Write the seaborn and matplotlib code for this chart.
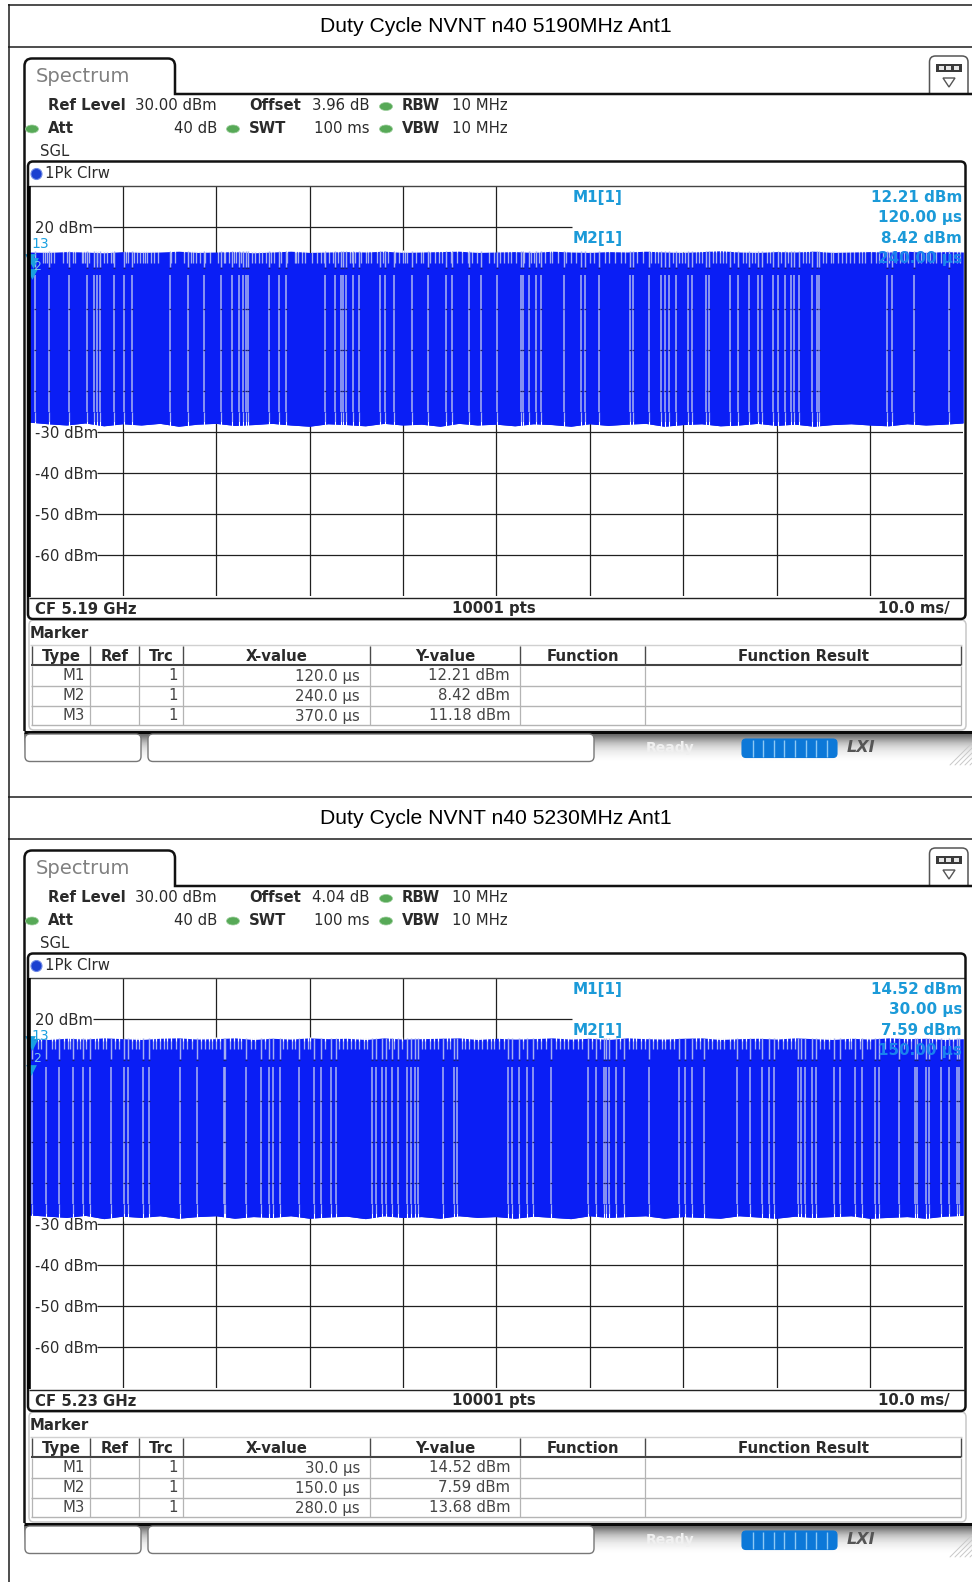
import numpy as np
import pandas as pd
import seaborn as sns
import matplotlib
matplotlib.use('Agg')
import matplotlib.pyplot as plt
from matplotlib.patches import FancyBboxPatch, Ellipse, Rectangle, PathPatch, Polygon
from matplotlib.path import Path

# --- data ---
titles = ['Duty Cycle NVNT n40 5190MHz Ant1', 'Duty Cycle NVNT n40 5230MHz Ant1']
cf_labels = ['CF 5.19 GHz', 'CF 5.23 GHz']
offset_labels = ['3.96 dB', '4.04 dB']

marker_names = ['M1', 'M2', 'M3']
marker_x_us = [[120.0, 240.0, 370.0], [30.0, 150.0, 280.0]]
marker_y_dbm = [[12.21, 8.42, 11.18], [14.52, 7.59, 13.68]]

db_ticks = [20, -30, -40, -50, -60]
db_tick_labels = ['20 dBm', '-30 dBm', '-40 dBm', '-50 dBm', '-60 dBm']

env_ms = [0, 2, 4, 6, 8, 10, 12, 14, 16, 18, 20, 22, 24, 26, 28, 30, 32, 34, 36, 38, 40, 42, 44, 46, 48, 50,
          52, 54, 56, 58, 60, 62, 64, 66, 68, 70, 72, 74, 76, 78, 80, 82, 84, 86, 88, 90, 92, 94, 96, 98, 100]
top_a = [13.9, 13.8, 14.0, 13.9, 13.7, 14.0, 13.8, 13.9, 14.1, 13.8, 13.9, 14.0, 13.7, 13.9, 14.1, 13.8, 13.9,
         14.0, 13.9, 14.1, 13.8, 13.9, 14.0, 14.1, 13.8, 13.9, 14.0, 13.8, 14.1, 13.9, 13.8, 14.0, 13.9, 14.1,
         13.9, 13.8, 14.0, 14.2, 13.9, 13.8, 14.0, 13.9, 14.1, 13.8, 13.9, 14.0, 13.9, 14.1, 13.8, 14.0, 13.9]
top_b = [15.2, 15.0, 15.3, 15.1, 15.4, 15.2, 15.0, 15.3, 15.4, 15.1, 15.2, 15.4, 15.0, 15.3, 15.1, 15.4, 15.2,
         15.3, 15.0, 15.4, 15.1, 15.2, 15.3, 15.4, 15.0, 15.3, 15.1, 15.2, 15.4, 15.1, 15.3, 15.0, 15.4, 15.2,
         15.1, 15.3, 15.4, 15.0, 15.2, 15.3, 15.1, 15.4, 15.2, 15.0, 15.3, 15.1, 15.4, 15.2, 15.3, 15.0, 15.2]
bot_a = [-27.6, -28.0, -28.3, -27.8, -28.5, -28.0, -28.3, -27.9, -28.6, -28.1, -27.9, -28.4, -28.2, -27.9, -28.3,
         -28.6, -28.0, -28.2, -28.5, -27.9, -28.3, -28.1, -28.6, -27.9, -28.3, -28.1, -28.5, -28.0, -28.2, -28.6,
         -28.0, -28.4, -28.1, -27.9, -28.6, -28.2, -28.0, -28.5, -28.3, -27.9, -28.4, -28.1, -28.6, -28.2, -28.0,
         -28.3, -28.5, -28.0, -28.3, -28.1, -27.8]
bot_b = [-27.8, -28.1, -28.4, -27.9, -28.7, -28.1, -28.4, -28.0, -28.6, -28.2, -28.0, -28.6, -28.2, -28.4, -28.0,
         -28.6, -28.3, -28.1, -28.7, -28.0, -28.4, -28.2, -28.6, -28.0, -28.4, -28.2, -28.6, -28.1, -28.4, -28.7,
         -28.0, -28.4, -28.2, -28.0, -28.6, -28.2, -28.4, -28.6, -28.0, -28.3, -28.6, -28.1, -28.4, -28.2, -28.0,
         -28.6, -28.4, -28.2, -28.6, -28.1, -27.9]

gaps_a = [0.6, 2.07, 4.28, 6.2, 6.9, 7.3, 7.6, 9.1, 10.1, 11.0, 15.1, 17.0, 18.7, 20.5, 21.7, 22.4, 22.9, 23.2, 23.4,
          25.7, 26.7, 27.5, 31.7, 32.7, 33.4, 33.6, 33.9, 34.7, 35.3, 37.6, 38.1, 39.0, 41.0, 42.7, 44.6, 45.3, 47.1,
          48.4, 50.1, 52.6, 52.9, 53.5, 54.2, 54.8, 57.2, 59.1, 59.5, 61.0, 64.3, 64.6, 66.3, 67.6, 68.1, 68.5, 69.2,
          70.5, 71.0, 72.5, 72.8, 75.0, 75.9, 77.1, 78.0, 78.4, 79.6, 80.2, 80.9, 81.5, 81.9, 82.4, 83.8, 84.3, 84.6,
          91.8, 92.4, 94.7, 98.5]
gaps_b = [0.3, 1.8, 3.2, 4.7, 5.7, 6.5, 8.7, 10.1, 10.6, 12.2, 12.8, 16.1, 18.0, 20.8, 21.0, 23.2, 24.8, 25.7, 26.1,
          26.8, 28.9, 30.5, 31.2, 32.3, 32.8, 36.7, 37.1, 37.8, 38.2, 38.8, 39.5, 40.4, 40.9, 41.3, 41.6, 44.3, 45.5,
          45.8, 51.3, 51.7, 52.4, 53.3, 53.9, 55.9, 59.8, 60.7, 61.5, 61.7, 62.1, 62.8, 63.7, 66.3, 69.6, 70.2, 70.9,
          72.2, 75.8, 77.2, 78.5, 79.2, 79.7, 82.3, 82.6, 83.1, 83.8, 84.2, 86.2, 86.8, 88.4, 89.2, 90.5, 91.0, 93.1,
          94.8, 95.0, 96.0, 96.3, 97.6, 98.5, 99.3, 99.5]

notches_a = [1.5, 1.7, 1.9, 2.3, 2.6, 3.6, 4.0, 4.7, 4.9, 5.6, 5.8, 6.0, 6.4, 7.2, 8.0, 8.3, 8.8, 9.0, 10.4, 10.6, 11.2,
             11.5, 11.9, 12.2, 12.4, 12.6, 13.0, 13.4, 13.8, 15.2, 15.6, 16.6, 17.3, 17.5, 17.9, 18.3, 18.8, 19.4, 20.2,
             20.8, 21.0, 21.4, 21.9, 22.1, 22.7, 23.8, 24.2, 24.6, 24.9, 25.3, 25.9, 26.2, 27.0, 27.6, 28.4, 28.6, 28.8,
             29.2, 29.5, 30.3, 30.8, 31.2, 31.5, 32.1, 32.5, 33.0, 34.3, 34.5, 34.9, 35.5, 36.1, 36.3, 36.6, 37.2, 37.9,
             38.4, 39.2, 39.6, 40.0, 40.2, 40.4, 41.4, 41.9, 42.2, 42.9, 43.4, 43.9, 44.2, 45.1, 45.8, 46.3, 47.0, 47.4,
             47.9, 49.2, 49.8, 50.4, 50.8, 51.2, 51.6, 52.1, 53.0, 53.7, 54.0, 54.6, 55.2, 55.8, 56.0, 56.6, 57.5, 58.0,
             58.5, 60.0, 60.5, 61.6, 62.1, 62.7, 63.3, 63.8, 65.1, 65.7, 66.6, 67.0, 67.3, 68.9, 69.6, 69.9, 70.2, 71.4,
             71.7, 72.0, 73.2, 73.5, 73.9, 74.3, 74.6, 75.4, 76.4, 76.7, 77.4, 77.7, 79.0, 79.3, 80.5, 81.2, 82.8, 83.2,
             83.5, 85.0, 85.3, 85.8, 86.1, 86.6, 87.0, 87.4, 87.9, 88.3, 88.8, 89.2, 89.5, 90.1, 90.6, 91.0, 91.4, 92.0,
             92.8, 93.2, 93.6, 94.1, 95.1, 95.5, 96.0, 96.4, 96.8, 97.1, 97.6, 98.0, 98.9, 99.3, 99.6]
notches_b = [0.9, 1.3, 2.4, 2.8, 3.7, 4.1, 4.4, 5.1, 5.4, 6.1, 7.0, 7.4, 7.9, 8.2, 9.2, 9.6, 11.0, 11.4, 11.7, 13.2, 13.6,
             14.0, 14.4, 14.7, 15.2, 15.7, 16.5, 16.9, 17.4, 18.4, 18.8, 19.2, 19.6, 20.0, 20.4, 21.5, 21.9, 22.3, 22.7,
             23.7, 24.2, 25.2, 27.2, 27.6, 28.1, 28.5, 29.4, 29.8, 30.0, 31.7, 33.2, 33.6, 34.0, 34.4, 34.9, 35.3, 35.8,
             36.2, 38.5, 39.0, 39.9, 42.0, 42.4, 42.9, 43.3, 43.8, 44.7, 45.0, 46.3, 46.7, 47.1, 47.6, 48.0, 48.5, 49.0,
             49.4, 49.8, 50.3, 50.8, 52.9, 54.4, 54.8, 55.3, 56.4, 56.8, 57.3, 57.7, 58.2, 58.7, 59.2, 60.2, 61.1, 63.2,
             64.2, 64.6, 65.0, 65.5, 65.9, 66.8, 67.2, 67.7, 68.1, 68.6, 69.0, 71.4, 71.8, 72.7, 73.1, 73.6, 74.0, 74.4,
             75.0, 75.4, 76.3, 76.7, 77.7, 78.1, 80.2, 80.7, 81.1, 81.6, 82.0, 84.7, 85.1, 85.6, 87.3, 87.8, 88.0, 88.9,
             89.7, 90.0, 91.6, 92.1, 92.6, 93.6, 94.0, 94.4, 95.5, 96.7, 97.1, 98.0, 98.9]

vgrid_ms = [10, 20, 30, 40, 50, 60, 70, 80, 90]
vgrid_top = [30, 30, 30, 30, 30, 14, 14, 14, 14]
hgrid_db = [20, 10, 0, -10, -20, -30, -40, -50, -60]
hgrid_start = [6.8, 0, 0, 0, 0, 7.2, 7.2, 7.2, 7.2]
hgrid_stop = [58.1, 100, 100, 100, 100, 100, 100, 100, 100]

panes = [(top_a, bot_a, gaps_a, notches_a, 11.3, 13.9), (top_b, bot_b, gaps_b, notches_b, 12.6, 14.7)]

# --- look ---
W, H = 972, 1582
PANE_STEP = 792
BLUE = '#0a1ef5'
LAV = '#a4aef2'
CYAN = '#1b9ad8'
DARK = '#1c1c1c'

sns.set_theme(style='white')
plt.rcParams['font.family'] = ['DejaVu Sans']

fig = plt.figure(figsize=(W / 100, H / 100), dpi=100, facecolor='white')

ov = fig.add_axes([0, 0, 1, 1], zorder=5)
ov.set_xlim(0, W)
ov.set_ylim(H, 0)
ov.axis('off')
ov.patch.set_alpha(0)


def hl(y, x0, x1, c=DARK, lw=1.0, z=2):
    ov.plot([x0, x1], [y, y], color=c, lw=lw, solid_capstyle='butt', zorder=z)


def vl(x, y0, y1, c=DARK, lw=1.0, z=2):
    ov.plot([x, x], [y0, y1], color=c, lw=lw, solid_capstyle='butt', zorder=z)


def txt(x, y, s, ha='left', size=10.7, bold=False, c='#2a2a2a', **kw):
    ov.text(x, y + 0.5, s, ha=ha, va='center', fontsize=size, color=c,
            fontweight='bold' if bold else 'normal', zorder=6, **kw)


def rbox(x0, y0, x1, y1, r=5, ec=DARK, fc='white', lw=1.0, z=3):
    ov.add_patch(FancyBboxPatch((x0 + r, y0 + r), x1 - x0 - 2 * r, y1 - y0 - 2 * r,
                                boxstyle='round,pad=%s,rounding_size=%s' % (r, r),
                                ec=ec, fc=fc, lw=lw, zorder=z))


def draw_trace(i, off):
    top, bot, gaps, notches, notch_db, spike_db = panes[i]
    px0, px1 = 29.3, 963.3
    py0, py1 = 186 + off, 596 + off
    ax = fig.add_axes([px0 / W, 1 - py1 / H, (px1 - px0) / W, (py1 - py0) / H], zorder=3)
    ax.set_xlim(0, 100)
    ax.set_ylim(-70, 30)
    ax.axis('off')

    ax.vlines(vgrid_ms, -70, vgrid_top, color='#202020', lw=0.9, zorder=1)
    ax.hlines(hgrid_db, hgrid_start, hgrid_stop, color='#202020', lw=0.9, zorder=1)

    frame = pd.DataFrame({'ms': env_ms, 'top': top, 'bot': bot})
    ax.fill_between(frame.ms, frame.bot, frame.top, color=BLUE, lw=0, zorder=2)
    sns.lineplot(data=frame, x='ms', y='bot', ax=ax, color=BLUE, lw=0.6, zorder=2, legend=False)

    ax.vlines(notches, notch_db, max(top), color=LAV, lw=0.95, zorder=3)
    ax.vlines(gaps, 10.3, max(top), color=LAV, lw=1.05, zorder=3)
    ax.vlines(gaps, -25.2, 8.3, color=LAV, lw=1.15, zorder=3)
    # ragged edges of the trace, white bites where the trace drops away
    ax.vlines(notches, spike_db, max(top) + 0.3, color='white', lw=0.8, zorder=3.5)
    ax.vlines(gaps, -29.2, -27.3, color='white', lw=0.8, zorder=3.5)
    ax.vlines(gaps, -27.3, -25.2, color=LAV, lw=0.9, zorder=3)
    g = np.array(gaps)
    for level in [10, 0, -10, -20]:
        ax.hlines([level] * len(g), g - 0.1, g + 0.1, color='#1a1f70', lw=0.9, zorder=4)

    # marks sit at the left edge
    pts = pd.DataFrame({'t': np.array(marker_x_us[i]) / 1000, 'db': marker_y_dbm[i]})
    sns.scatterplot(data=pts, x='t', y='db', ax=ax, marker='v', s=60, color='#1aa0e0', lw=0, zorder=5,
                    legend=False, clip_on=False)
    ax.set_xlim(0, 100)
    ax.set_ylim(-70, 30)
    ax.set_xlabel('')
    ax.set_ylabel('')
    for t, lab in zip(db_ticks, db_tick_labels):
        ax.text(0.65, t - 0.4, lab, ha='left', va='center', fontsize=10.7, color='#2a2a2a', zorder=6)


def draw_pane(i, off):
    # report table cell
    hl(4.5 + off, 8, W, lw=1.1)
    hl(47 + off, 8, W, lw=1.1)
    ov.text(495.5, 26 + off, titles[i], ha='center', va='center', fontsize=15.2,
            family='Liberation Sans', color='black', zorder=6)

    # tab outline
    verts = [(24.5, 731 + off), (24.5, 66 + off), (24.5, 58.5 + off), (32, 58.5 + off), (168, 58.5 + off),
             (175, 58.5 + off), (175, 66 + off), (175, 94 + off), (W, 94 + off)]
    codes = [Path.MOVETO, Path.LINETO, Path.CURVE3, Path.CURVE3, Path.LINETO, Path.CURVE3, Path.CURVE3,
             Path.LINETO, Path.LINETO]
    ov.add_patch(PathPatch(Path(verts, codes), fc='none', ec='#111111', lw=1.8, zorder=3))
    txt(36, 76 + off, 'Spectrum', size=14, c='#808080')

    # window button
    rbox(929.5, 56 + off, 968, 100 + off, r=6, ec='#555555', lw=1.1, z=2)
    ov.add_patch(Rectangle((915, 95 + off), 57, 10, fc='white', ec='none', zorder=2.5))
    ov.add_patch(Rectangle((936, 64 + off), 26, 8, fc='#3a3a3a', ec='none', zorder=4))
    for sx in (938.5, 946, 953.5):
        ov.add_patch(Rectangle((sx, 66 + off), 5, 4, fc='#e6e6e6', ec='none', zorder=4.5))
    ov.add_patch(Polygon([(943, 78 + off), (955, 78 + off), (949, 87 + off)], fc='white', ec='#555555', lw=1, zorder=4))

    # settings header
    txt(48, 105.5 + off, 'Ref Level', bold=True)
    txt(217, 105.5 + off, '30.00 dBm', ha='right')
    txt(249, 105.5 + off, 'Offset', bold=True)
    txt(369, 105.5 + off, offset_labels[i], ha='right')
    txt(402, 105.5 + off, 'RBW', bold=True)
    txt(452, 105.5 + off, '10 MHz')
    txt(48, 128 + off, 'Att', bold=True)
    txt(217, 128 + off, '40 dB', ha='right')
    txt(249, 128 + off, 'SWT', bold=True)
    txt(369, 128 + off, '100 ms', ha='right')
    txt(402, 128 + off, 'VBW', bold=True)
    txt(452, 128 + off, '10 MHz')
    txt(40, 151 + off, 'SGL')
    for cx, cy in [(386, 106.5), (32, 129), (233, 129), (386, 129)]:
        ov.add_patch(Ellipse((cx, cy + off), 13, 8, fc='#57a957', ec='#9ccf9c', lw=0.5, zorder=4))

    # diagram frame
    rbox(28, 161.5 + off, 965.5, 619 + off, r=5, ec='#111111', fc='none', lw=1.8, z=4)
    hl(185.5 + off, 29, 965, c='#444444', lw=1.0)
    hl(597.5 + off, 29, 965, c='#222222', lw=1.0, z=4)
    vl(28.5, 186 + off, 597 + off, c='black', lw=2.6, z=4)
    ov.add_patch(Ellipse((36.5, 174 + off), 11, 11, fc='#1a3fd0', ec='#6f8ae6', lw=0.8, zorder=4))
    txt(45, 173 + off, '1Pk Clrw')
    txt(35, 608.5 + off, cf_labels[i], bold=True)
    txt(494, 608.5 + off, '10001 pts', ha='center', bold=True)
    txt(950, 608.5 + off, '10.0 ms/', ha='right', bold=True)

    # marker readout
    txt(573, 197 + off, 'M1[1]', bold=True, c=CYAN, size=11)
    txt(573, 238 + off, 'M2[1]', bold=True, c=CYAN, size=11)
    fx = marker_x_us[i]
    fy = marker_y_dbm[i]
    txt(962, 197 + off, '%.2f dBm' % fy[0], ha='right', bold=True, c=CYAN, size=10.9)
    txt(962, 217 + off, '%.2f µs' % fx[0], ha='right', bold=True, c=CYAN, size=10.9)
    txt(962, 238 + off, '%.2f dBm' % fy[1], ha='right', bold=True, c=CYAN, size=10.9)
    txt(962, 258 + off, '%.2f µs' % fx[1], ha='right', bold=True, c='#1a82ee', size=10.9)
    txt(31, 243 + off, '13', c='#1aa0e0', size=10)
    txt(33, 266 + off, '2', c='#7fc4ea', size=9)

    # marker table
    rbox(29, 620 + off, 966, 730 + off, r=5, ec='#c8c8c8', fc='white', lw=1.1, z=2)
    txt(30, 633.5 + off, 'Marker', bold=True)
    hl(644.5 + off, 30, 962, c='#d0d0d0')
    cols = [31.5, 90, 138.5, 183, 370, 520, 644.5, 961]
    for cx in cols[1:] + cols[:1]:
        vl(cx, 646 + off, 665 + off, c='#4a4a4a', lw=1.0)
    hl(665 + off, 31, 961, c='#444444', lw=1.5)
    for ry in (685.5, 705.5, 725):
        hl(ry + off, 31, 961, c='#b4b4b4', lw=1.0)
    for cx in cols:
        vl(cx, 666 + off, 725 + off, c='#b4b4b4', lw=0.9)
    heads = ['Type', 'Ref', 'Trc', 'X-value', 'Y-value', 'Function', 'Function Result']
    for name, x0, x1 in zip(heads, cols[:-1], cols[1:]):
        txt((x0 + x1) / 2 + 0.5, 656 + off, name, ha='center', bold=True)
    for k, ry in enumerate((675.5, 695.5, 715.5)):
        txt(85, ry + off, marker_names[k], ha='right', c='#444444')
        txt(178, ry + off, '1', ha='right', c='#444444')
        txt(360, ry + off, '%.1f µs' % fx[k], ha='right', c='#444444')
        txt(510, ry + off, '%.2f dBm' % fy[k], ha='right', c='#444444')

    # status bar
    shade = np.array([[0.42], [0.6], [0.75], [0.85], [0.92], [0.96], [0.99], [1.0]])
    ov.imshow(shade, extent=(24, W, 765 + off, 733 + off), aspect='auto', cmap='gray', vmin=0, vmax=1,
              zorder=1, interpolation='bilinear')
    ov.set_xlim(0, W)
    ov.set_ylim(H, 0)
    hl(732 + off, 24, W, c='#0a0a0a', lw=2.2, z=3)
    rbox(25, 734 + off, 141, 761.5 + off, r=5, ec='#777777', lw=1.0)
    rbox(148, 734 + off, 594, 761.5 + off, r=5, ec='#777777', lw=1.0)
    vl(116, 740 + off, 756 + off, c='#dddddd')
    vl(568, 740 + off, 756 + off, c='#dddddd')
    txt(646, 747.5 + off, 'Ready', bold=True, c='#f0f0f0', size=10)
    rbox(742, 739 + off, 837, 757.5 + off, r=4, ec='#0c78d8', fc='#0c78d8', lw=0.8)
    for sx in range(1, 9):
        vl(742 + sx * 10.6, 740 + off, 757 + off, c='#8cc8f4', lw=1.0, z=4)
    txt(847, 747.5 + off, 'LXI', bold=True, c='#555555', size=11.5, style='italic')
    for sx in range(0, 25, 5):
        ov.plot([950 + sx, 972], [765 + off, 765 + off - (22 - sx)], color='#c8c8c8', lw=0.7, zorder=2)


vl(8.5, 4, H, lw=1.1)
for i in range(2):
    off = i * PANE_STEP
    draw_trace(i, off)
    draw_pane(i, off)

fig.savefig('out.png', dpi=100)
